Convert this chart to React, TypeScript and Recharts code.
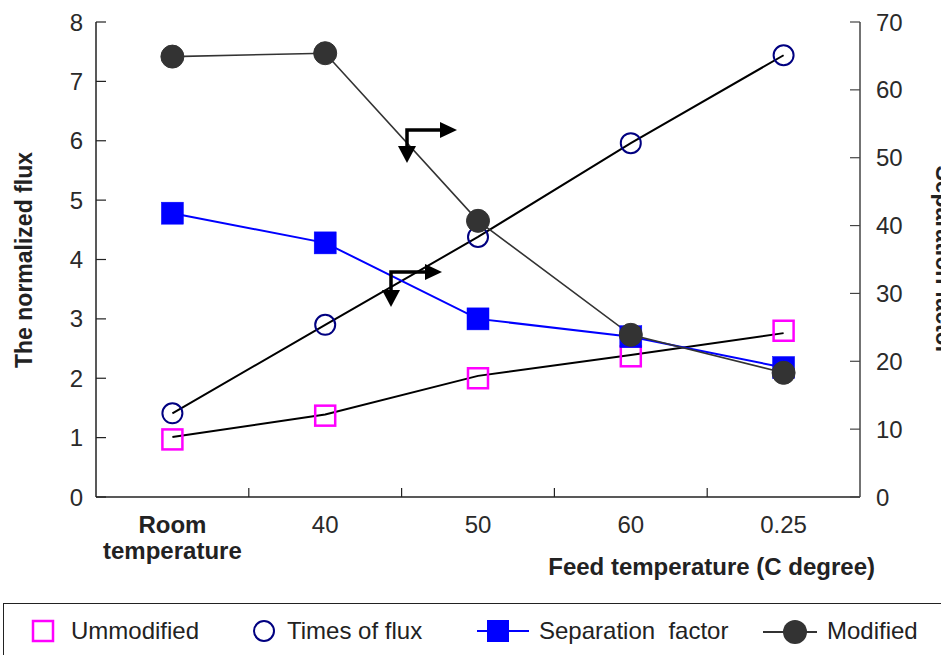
import React from "react";
import { LineChart, Line, XAxis, YAxis } from "recharts";

const categories = ["Room temperature", "40", "50", "60", "0.25"];
const unmodified = [0.97, 1.37, 2.0, 2.37, 2.8];
const unmodifiedTrend = [1.01, 1.39, 2.04, 2.39, 2.76];
const timesOfFlux = [1.41, 2.9, 4.38, 5.96, 7.44];
const separationFactor = [4.78, 4.28, 3.0, 2.7, 2.18];
const modified = [64.9, 65.4, 40.7, 23.9, 18.3];
const leftTicks = [0, 1, 2, 3, 4, 5, 6, 7, 8];
const rightTicks = [0, 10, 20, 30, 40, 50, 60, 70];

const data = categories.map((cat, i) => ({
  cat,
  unmodified: unmodified[i],
  unmodifiedTrend: unmodifiedTrend[i],
  timesOfFlux: timesOfFlux[i],
  separationFactor: separationFactor[i],
  modified: modified[i],
}));

const FONT = '"Liberation Sans", Arial, sans-serif';
const W = 941;
const H = 655;
const PLOT_LEFT = 96;
const PLOT_RIGHT = 860;
const PLOT_TOP = 22;
const PLOT_BOTTOM = 497;
const HALF_BAND = (PLOT_RIGHT - PLOT_LEFT) / categories.length / 2;

const LeftTick = (props: any) => {
  const { y, payload } = props;
  return (
    <g>
      <line x1={PLOT_LEFT} x2={PLOT_LEFT + 10} y1={y} y2={y} stroke="#222" strokeWidth={1.2} />
      <text x={PLOT_LEFT - 13} y={y + 8.5} textAnchor="end" fontSize={24} fill="#2a2a2a" fontFamily={FONT}>
        {payload.value}
      </text>
    </g>
  );
};

const RightTick = (props: any) => {
  const { y, payload } = props;
  return (
    <g>
      <line x1={PLOT_RIGHT - 10} x2={PLOT_RIGHT} y1={y} y2={y} stroke="#444" strokeWidth={1.2} />
      <text x={PLOT_RIGHT + 16} y={y + 8.5} textAnchor="start" fontSize={24} fill="#2a2a2a" fontFamily={FONT}>
        {payload.value}
      </text>
    </g>
  );
};

const BottomTick = (props: any) => {
  const { x, payload, index } = props;
  const value: string = payload.value;
  const words = value.split(" ");
  const bold = words.length > 1;
  return (
    <g>
      {index > 0 && (
        <line x1={x - HALF_BAND} x2={x - HALF_BAND} y1={PLOT_BOTTOM} y2={PLOT_BOTTOM - 9} stroke="#222" strokeWidth={1.2} />
      )}
      {words.map((w, i) => (
        <text
          key={i}
          x={x}
          y={533 + i * 26}
          textAnchor="middle"
          fontSize={24}
          fontWeight={bold ? "bold" : "normal"}
          fill={bold ? "#222" : "#2a2a2a"}
          fontFamily={FONT}
        >
          {w}
        </text>
      ))}
    </g>
  );
};

const OpenSquare = (props: any) => {
  const { cx, cy, index } = props;
  if (cx == null || cy == null) return <g key={index} />;
  return <rect key={index} x={cx - 10} y={cy - 10} width={20} height={20} fill="none" stroke="#ff00ff" strokeWidth={2.5} />;
};

const FilledSquare = (props: any) => {
  const { cx, cy, index } = props;
  if (cx == null || cy == null) return <g key={index} />;
  return <rect key={index} x={cx - 11} y={cy - 11} width={22} height={22} fill="#0000ff" stroke="#0000ff" strokeWidth={0.5} />;
};

const OpenCircle = (props: any) => {
  const { cx, cy, index } = props;
  if (cx == null || cy == null) return <g key={index} />;
  return <circle key={index} cx={cx} cy={cy} r={10} fill="none" stroke="#000080" strokeWidth={2} />;
};

const FilledCircle = (props: any) => {
  const { cx, cy, index } = props;
  if (cx == null || cy == null) return <g key={index} />;
  return <circle key={index} cx={cx} cy={cy} r={11.5} fill="#333" stroke="#333" />;
};

const Arrow = ({ x, y, h, v }: { x: number; y: number; h: number; v: number }) => (
  <g>
    <polyline points={`${x + h},${y} ${x},${y} ${x},${y + v}`} fill="none" stroke="#000" strokeWidth={3.5} />
    <polygon points={`${x + h},${y - 8} ${x + h + 17},${y} ${x + h},${y + 8}`} fill="#000" />
    <polygon points={`${x - 9},${y + v} ${x},${y + v + 17} ${x + 9},${y + v}`} fill="#000" />
  </g>
);

const legendItems = [
  { label: "Ummodified", x: 31, textX: 71, kind: "openSquare" },
  { label: "Times of flux", x: 252, textX: 287, kind: "openCircle" },
  { label: "Separation  factor", x: 477, textX: 539, kind: "blueSquare" },
  { label: "Modified", x: 763, textX: 827, kind: "darkCircle" },
];

const LegendMarker = ({ kind }: { kind: string }) => {
  if (kind === "openSquare")
    return (
      <svg width={24} height={24} style={{ display: "block" }}>
        <rect x={2} y={2} width={20} height={20} fill="none" stroke="#ff00ff" strokeWidth={2.5} />
      </svg>
    );
  if (kind === "openCircle")
    return (
      <svg width={24} height={24} style={{ display: "block" }}>
        <circle cx={12} cy={12} r={10} fill="none" stroke="#000080" strokeWidth={2} />
      </svg>
    );
  if (kind === "blueSquare")
    return (
      <svg width={52} height={24} style={{ display: "block" }}>
        <line x1={0} x2={52} y1={12} y2={12} stroke="#0000ff" strokeWidth={2} />
        <rect x={10} y={1} width={22} height={22} fill="#0000ff" />
      </svg>
    );
  return (
    <svg width={54} height={26} style={{ display: "block" }}>
      <line x1={0} x2={54} y1={13} y2={13} stroke="#333" strokeWidth={2} />
      <circle cx={32} cy={13} r={12} fill="#333" />
    </svg>
  );
};

export default function App() {
  return (
    <div style={{ position: "absolute", left: 0, top: 0, width: W, height: H, overflow: "hidden", background: "#fff", fontFamily: FONT }}>
      <LineChart width={W} height={600} data={data} margin={{ top: PLOT_TOP, right: 0, bottom: 0, left: 0 }}>
        <XAxis
          dataKey="cat"
          type="category"
          height={103}
          padding={{ left: HALF_BAND, right: HALF_BAND }}
          interval={0}
          tickLine={false}
          tickSize={0}
          tickMargin={0}
          axisLine={{ stroke: "#222", strokeWidth: 1.5 }}
          tick={BottomTick}
        />
        <YAxis
          yAxisId="left"
          orientation="left"
          width={PLOT_LEFT}
          domain={[0, 8]}
          ticks={leftTicks}
          interval={0}
          tickLine={false}
          tickSize={0}
          tickMargin={0}
          axisLine={{ stroke: "#222", strokeWidth: 1.5 }}
          tick={LeftTick}
        />
        <YAxis
          yAxisId="right"
          orientation="right"
          width={W - PLOT_RIGHT}
          domain={[0, 70]}
          ticks={rightTicks}
          interval={0}
          tickLine={false}
          tickSize={0}
          tickMargin={0}
          axisLine={{ stroke: "#444", strokeWidth: 1.5 }}
          tick={RightTick}
        />
        <Line yAxisId="left" dataKey="unmodifiedTrend" stroke="#000" strokeWidth={2} dot={false} activeDot={false} isAnimationActive={false} />
        <Line yAxisId="left" dataKey="unmodified" stroke="none" dot={OpenSquare} activeDot={false} isAnimationActive={false} />
        <Line yAxisId="left" dataKey="timesOfFlux" stroke="#000" strokeWidth={2} dot={OpenCircle} activeDot={false} isAnimationActive={false} />
        <Line yAxisId="left" dataKey="separationFactor" stroke="#0000ff" strokeWidth={2} dot={FilledSquare} activeDot={false} isAnimationActive={false} />
        <Line yAxisId="right" dataKey="modified" stroke="#333" strokeWidth={1.6} dot={FilledCircle} activeDot={false} isAnimationActive={false} />
      </LineChart>

      <svg width={W} height={H} style={{ position: "absolute", left: 0, top: 0, pointerEvents: "none" }}>
        <Arrow x={407} y={130} h={33} v={16} />
        <Arrow x={391} y={272} h={34} v={18} />
        <text
          transform="translate(32, 260) rotate(-90)"
          textAnchor="middle"
          fontSize={23}
          fontWeight="bold"
          fill="#222"
          fontFamily={FONT}
        >
          The normalized flux
        </text>
        <text
          transform="translate(936, 260) rotate(90)"
          textAnchor="middle"
          fontSize={23}
          fontWeight="bold"
          fill="#222"
          fontFamily={FONT}
        >
          Separation factor
        </text>
        <text x={875} y={575} textAnchor="end" fontSize={24} fontWeight="bold" fill="#222" fontFamily={FONT}>
          Feed temperature (C degree)
        </text>
      </svg>

      <div
        style={{
          position: "absolute",
          left: 3,
          top: 603,
          width: 1000,
          height: 80,
          borderTop: "1.5px solid #222",
          borderLeft: "1.5px solid #222",
        }}
      />
      {legendItems.map((item) => (
        <React.Fragment key={item.label}>
          <div style={{ position: "absolute", left: item.x, top: 619 }}>
            <LegendMarker kind={item.kind} />
          </div>
          <div
            style={{
              position: "absolute",
              left: item.textX,
              top: 617,
              fontSize: 24,
              lineHeight: "28px",
              color: "#222",
              whiteSpace: "pre",
            }}
          >
            {item.label}
          </div>
        </React.Fragment>
      ))}
    </div>
  );
}
